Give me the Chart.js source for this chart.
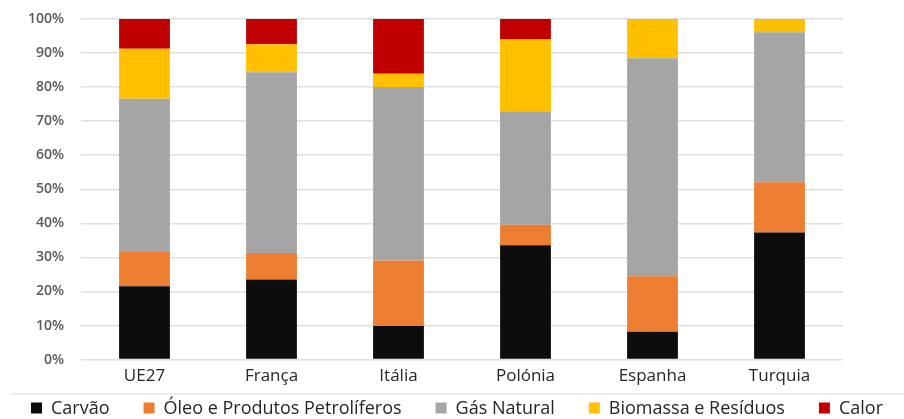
<!DOCTYPE html>
<html>
<head>
<meta charset="utf-8">
<script src="https://cdn.jsdelivr.net/npm/chart.js@4.4.1/dist/chart.umd.min.js"></script>
<style>
  html, body { margin: 0; padding: 0; background: #ffffff; }
  #wrap { width: 904px; height: 419px; position: relative; }
</style>
</head>
<body>
<div id="wrap"><canvas id="c"></canvas></div>
<script>
// Countries / regions along the x axis
const categories = ['UE27', 'França', 'Itália', 'Polónia', 'Espanha', 'Turquia'];

// Share of each energy source (% of total), stacked to 100
const carvao     = [21.5, 23.5,  9.9, 33.6,  8.2, 37.3];
const oleo       = [10.1,  7.8, 19.2,  6.0, 16.3, 14.8];
const gasNatural = [45.0, 53.1, 50.9, 33.3, 64.0, 44.0];
const biomassa   = [14.7,  8.2,  3.9, 21.1, 11.5,  3.9];
const calor      = [ 8.7,  7.4, 16.1,  6.0,  0.0,  0.0];

const seriesNames = ['Carvão', 'Óleo e Produtos Petrolíferos', 'Gás Natural', 'Biomassa e Resíduos', 'Calor'];
const yTicks = [0, 10, 20, 30, 40, 50, 60, 70, 80, 90, 100];

const colors = ['#0d0d0d', '#ed7d31', '#a5a5a5', '#ffc000', '#c00000'];
const seriesData = [carvao, oleo, gasNatural, biomassa, calor];

const FONT = "'Open Sans', sans-serif";

const datasets = seriesNames.map((name, i) => ({
  label: name,
  data: seriesData[i],
  backgroundColor: colors[i],
  borderWidth: 0,
  barPercentage: 0.8,
  categoryPercentage: 0.5
}));

// Legend row under the axis, with a thin rule above it
const bottomLegend = {
  id: 'bottomLegend',
  afterDraw(chart) {
    const ctx = chart.ctx;
    const ruleY = 394;
    const rowY = 409;
    const box = 11, boxGap = 9, itemGap = 34;
    ctx.save();
    ctx.strokeStyle = '#d9d9d9';
    ctx.lineWidth = 1.2;
    ctx.beginPath();
    ctx.moveTo(10, ruleY);
    ctx.lineTo(chart.width, ruleY);
    ctx.stroke();

    ctx.font = '18px ' + FONT;
    ctx.textBaseline = 'middle';
    ctx.textAlign = 'left';
    const widths = seriesNames.map(t => ctx.measureText(t).width);
    const total = widths.reduce((a, w) => a + box + boxGap + w, 0) + itemGap * (seriesNames.length - 1);
    let x = (chart.width - total) / 2 + 5;
    seriesNames.forEach((name, i) => {
      ctx.fillStyle = colors[i];
      ctx.fillRect(x, rowY - box / 2 - 1, box, box);
      x += box + boxGap;
      ctx.fillStyle = '#262626';
      ctx.fillText(name, x, rowY);
      x += widths[i] + itemGap;
    });
    ctx.restore();
  }
};

new Chart(document.getElementById('c'), {
  type: 'bar',
  data: { labels: categories, datasets },
  options: {
    responsive: true,
    maintainAspectRatio: false,
    animation: false,
    layout: { padding: { top: 19, right: 61, left: 0, bottom: 27 } },
    plugins: {
      tooltip: { enabled: false },
      legend: { display: false }
    },
    scales: {
      x: {
        stacked: true,
        grid: { display: false, drawTicks: false },
        border: { display: false },
        ticks: {
          color: '#262626',
          padding: 6,
          font: { family: FONT, size: 17 }
        }
      },
      y: {
        stacked: true,
        min: 0,
        max: 100,
        afterFit(scale) {
          scale.width = 81;
          scale.paddingTop = 0;
          scale.paddingBottom = 0;
        },
        afterBuildTicks(scale) { scale.ticks = yTicks.map(v => ({ value: v })); },
        grid: { color: '#e0e0e0', lineWidth: 1.5, drawTicks: false },
        border: { display: false },
        ticks: {
          color: '#595959',
          padding: 17,
          font: { family: FONT, size: 14, weight: '600' },
          callback: v => v + '%'
        }
      }
    }
  },
  plugins: [bottomLegend]
});
</script>
</body>
</html>
